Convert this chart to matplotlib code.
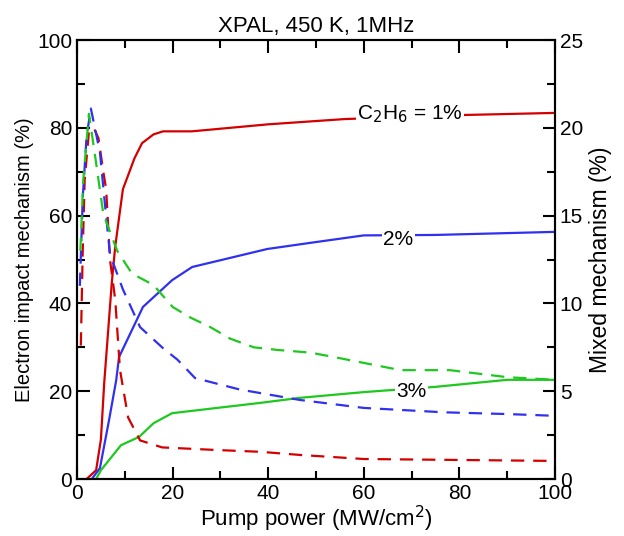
import matplotlib
matplotlib.use("Agg")
import matplotlib.pyplot as plt
from matplotlib.ticker import MultipleLocator

plt.rcParams['font.family'] = ['Liberation Sans', 'DejaVu Sans']

# electron impact mechanism (left axis, %)
x_r1 = [2, 4, 5, 5.7, 7.3, 8, 9.6, 12, 13.6, 16, 18, 24, 40, 56, 80, 100]
y_r1 = [0, 2, 9, 22, 45, 53, 66, 73, 76.5, 78.5, 79.2, 79.2, 80.8, 82, 82.9, 83.4]
x_b1 = [3.1, 4.8, 6.7, 8.2, 8.8, 13.8, 19.9, 24.1, 39.8, 48.8, 60, 75, 100]
y_b1 = [0, 2.5, 13.4, 22.5, 27.8, 39.2, 45.3, 48.3, 52.4, 53.8, 55.5, 55.6, 56.3]
x_g1 = [4, 5, 9.2, 13, 16, 19.9, 38, 46.7, 60, 75, 90, 100]
y_g1 = [0, 2, 7.7, 9.6, 12.7, 15, 17.3, 18.5, 19.8, 21, 22.6, 22.6]

# mixed mechanism (right axis, %)
x_r2 = [0.8, 1.2, 1.6, 2.5, 3.5, 4.5, 5.5, 6.1, 6.9, 8, 9, 10.7, 13.2, 17.8, 29.4, 38.4, 46.7, 60, 100]
y_r2 = [7.6, 13, 17, 19.8, 20, 19.4, 17.5, 16.5, 12.5, 10.2, 6.2, 3.5, 2.2, 1.8, 1.65, 1.55, 1.37, 1.14, 1.03]
x_b2 = [0.6, 1.2, 2.0, 2.9, 4.8, 5.9, 6.9, 9.6, 13.2, 18, 21, 24.7, 34, 46.7, 60, 76.7, 90, 100]
y_b2 = [11, 16, 19.5, 21.1, 18.6, 15.5, 12.8, 10.8, 8.65, 7.45, 6.8, 5.75, 5.1, 4.5, 4.05, 3.8, 3.7, 3.6]
x_g2 = [0.7, 1.3, 2.5, 4, 5.5, 8.4, 11.5, 16, 20, 23.7, 27.9, 32, 37, 42, 48.8, 53.7, 67.7, 78, 90, 100]
y_g2 = [13, 17, 20.8, 18, 15.1, 13, 11.7, 11.05, 9.8, 9.2, 8.65, 8.0, 7.5, 7.35, 7.2, 6.95, 6.2, 6.2, 5.8, 5.65]

red = '#d40000'
blue = '#3030f0'
green = '#1ec81e'

fig = plt.figure(figsize=(6.24, 5.36), dpi=100)
ax = fig.add_axes([0.1234, 0.1063, 0.7660, 0.8190])
ax2 = ax.twinx()

lw = 1.6
dash = (0, (6, 4))
ax.plot(x_r1, y_r1, color=red, lw=lw, zorder=3)
ax.plot(x_b1, y_b1, color=blue, lw=lw, zorder=3)
ax.plot(x_g1, y_g1, color=green, lw=lw, zorder=3)
ax2.plot(x_r2, y_r2, color=red, lw=lw, linestyle=dash)
ax2.plot(x_b2, y_b2, color=blue, lw=lw, linestyle=dash)
ax2.plot(x_g2, y_g2, color=green, lw=lw, linestyle=dash)

box = dict(facecolor='white', edgecolor='none', pad=1)
ax2.text(69.7, 83.0 / 4, r'C$_2$H$_6$ = 1%', fontsize=15, ha='center', va='center', bbox=box, zorder=5)
ax2.text(67.2, 54.6 / 4, '2%', fontsize=15, ha='center', va='center', bbox=box, zorder=5)
ax2.text(70, 20.0 / 4, '3%', fontsize=15, ha='center', va='center', bbox=box, zorder=5)

ax.set_xlim(0, 100)
ax.set_ylim(0, 100)
ax2.set_ylim(0, 25)
ax.xaxis.set_major_locator(MultipleLocator(20))
ax.xaxis.set_minor_locator(MultipleLocator(10))
ax.yaxis.set_major_locator(MultipleLocator(20))
ax.yaxis.set_minor_locator(MultipleLocator(10))
ax2.yaxis.set_major_locator(MultipleLocator(5))
ax2.yaxis.set_minor_locator(MultipleLocator(2.5))

ax.tick_params(which='both', direction='in', top=True, labelsize=15, width=1.5)
ax.tick_params(which='major', length=9)
ax.tick_params(which='minor', length=6)
ax2.tick_params(which='both', direction='in', labelsize=15, width=1.5)
ax2.tick_params(which='major', length=9)
ax2.tick_params(which='minor', length=6)
for a in (ax, ax2):
    for s in a.spines.values():
        s.set_linewidth(1.5)

ax.set_xlabel('Pump power (MW/cm$^2$)', fontsize=16, labelpad=1)
ax.set_ylabel('Electron impact mechanism (%)', fontsize=14.5, labelpad=2)
ax2.set_ylabel('Mixed mechanism (%)', fontsize=16.5, labelpad=4)
ax.set_title('XPAL, 450 K, 1MHz', fontsize=16, pad=6)

fig.savefig('out.png', dpi=100)
